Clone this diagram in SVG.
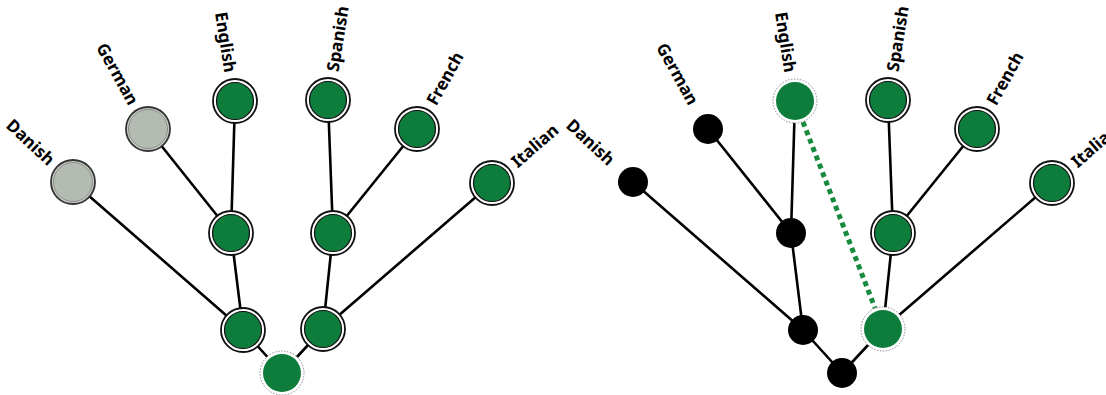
<svg xmlns="http://www.w3.org/2000/svg" width="1106" height="395" viewBox="0 0 1106 395">
<style>
.e{stroke:#000;stroke-width:2.6;fill:none;stroke-linecap:round}
.dash{stroke:#178a3e;stroke-width:5;stroke-dasharray:5 4;fill:none}
.ring{fill:#fff;stroke:#111;stroke-width:1.8}
.g{fill:#0e7d3c;stroke:#111;stroke-width:1.2}
.gring{fill:#c9cec7;stroke:#333;stroke-width:1.8}
.gray{fill:#b4bbb3;stroke:#8a8f89;stroke-width:1}
.dring{fill:#fff;stroke:#8a8a8a;stroke-width:1;stroke-dasharray:1.5 1.5}
.gd{fill:#0e7d3c}
.b{fill:#000}
text{font-family:"Noto Sans","Open Sans",sans-serif;font-weight:bold;font-size:17px;fill:#000}
.l{text-anchor:end}
.r{text-anchor:start}
</style>
<g id="connectors">
<line class="e" x1="73" y1="182" x2="243" y2="330"/>
<line class="e" x1="148" y1="129" x2="231" y2="233"/>
<line class="e" x1="235" y1="101" x2="231" y2="233"/>
<line class="e" x1="231" y1="233" x2="243" y2="330"/>
<line class="e" x1="328" y1="100" x2="333" y2="233"/>
<line class="e" x1="417" y1="129" x2="333" y2="233"/>
<line class="e" x1="333" y1="233" x2="323" y2="329"/>
<line class="e" x1="492" y1="183" x2="323" y2="329"/>
<line class="e" x1="243" y1="330" x2="282" y2="373"/>
<line class="e" x1="323" y1="329" x2="282" y2="373"/>
<line class="e" x1="633" y1="182" x2="803" y2="330"/>
<line class="e" x1="708" y1="129" x2="791" y2="233"/>
<line class="e" x1="795" y1="101" x2="791" y2="233"/>
<line class="e" x1="791" y1="233" x2="803" y2="330"/>
<line class="e" x1="888" y1="100" x2="893" y2="233"/>
<line class="e" x1="977" y1="129" x2="893" y2="233"/>
<line class="e" x1="893" y1="233" x2="883" y2="329"/>
<line class="e" x1="1052" y1="183" x2="883" y2="329"/>
<line class="e" x1="803" y1="330" x2="842" y2="373"/>
<line class="e" x1="883" y1="329" x2="842" y2="373"/>
<line class="dash" x1="803" y1="122" x2="875" y2="308"/>
</g>
<g id="L-danish" transform="translate(73,182)"><circle class="gring" r="22"/><circle class="gray" r="19.5"/><text class="l" transform="rotate(43)" x="-29" dy="0.35em">Danish</text></g>
<g id="L-german" transform="translate(148,129)"><circle class="gring" r="22"/><circle class="gray" r="19.5"/><text class="l" transform="rotate(61)" x="-29" dy="0.35em">German</text></g>
<g id="L-english" transform="translate(235,101)"><circle class="ring" r="22"/><circle class="g" r="18.5"/><text class="l" transform="rotate(81)" x="-29" dy="0.35em">English</text></g>
<g id="L-spanish" transform="translate(328,100)"><circle class="ring" r="22"/><circle class="g" r="18.5"/><text class="r" transform="rotate(-81)" x="29" dy="0.35em">Spanish</text></g>
<g id="L-french" transform="translate(417,129)"><circle class="ring" r="22"/><circle class="g" r="18.5"/><text class="r" transform="rotate(-61)" x="29" dy="0.35em">French</text></g>
<g id="L-italian" transform="translate(492,183)"><circle class="ring" r="22"/><circle class="g" r="18.5"/><text class="r" transform="rotate(-41)" x="29" dy="0.35em">Italian</text></g>
<g id="L-midleft" transform="translate(231,233)"><circle class="ring" r="22"/><circle class="g" r="18.5"/></g>
<g id="L-midright" transform="translate(333,233)"><circle class="ring" r="22"/><circle class="g" r="18.5"/></g>
<g id="L-lowleft" transform="translate(243,330)"><circle class="ring" r="22"/><circle class="g" r="18.5"/></g>
<g id="L-lowright" transform="translate(323,329)"><circle class="ring" r="22"/><circle class="g" r="18.5"/></g>
<g id="L-root" transform="translate(282,373)"><circle class="dring" r="22"/><circle class="gd" r="19"/></g>
<g id="R-danish" transform="translate(633,182)"><circle class="b" r="15"/><text class="l" transform="rotate(43)" x="-29" dy="0.35em">Danish</text></g>
<g id="R-german" transform="translate(708,129)"><circle class="b" r="15"/><text class="l" transform="rotate(61)" x="-29" dy="0.35em">German</text></g>
<g id="R-english" transform="translate(795,101)"><circle class="dring" r="22"/><circle class="gd" r="19"/><text class="l" transform="rotate(81)" x="-29" dy="0.35em">English</text></g>
<g id="R-spanish" transform="translate(888,100)"><circle class="ring" r="22"/><circle class="g" r="18.5"/><text class="r" transform="rotate(-81)" x="29" dy="0.35em">Spanish</text></g>
<g id="R-french" transform="translate(977,129)"><circle class="ring" r="22"/><circle class="g" r="18.5"/><text class="r" transform="rotate(-61)" x="29" dy="0.35em">French</text></g>
<g id="R-italian" transform="translate(1052,183)"><circle class="ring" r="22"/><circle class="g" r="18.5"/><text class="r" transform="rotate(-41)" x="29" dy="0.35em">Italian</text></g>
<g id="R-midleft" transform="translate(791,233)"><circle class="b" r="15"/></g>
<g id="R-midright" transform="translate(893,233)"><circle class="ring" r="22"/><circle class="g" r="18.5"/></g>
<g id="R-lowleft" transform="translate(803,330)"><circle class="b" r="15"/></g>
<g id="R-lowright" transform="translate(883,329)"><circle class="dring" r="22"/><circle class="gd" r="19"/></g>
<g id="R-root" transform="translate(842,373)"><circle class="b" r="15"/></g>
</svg>
